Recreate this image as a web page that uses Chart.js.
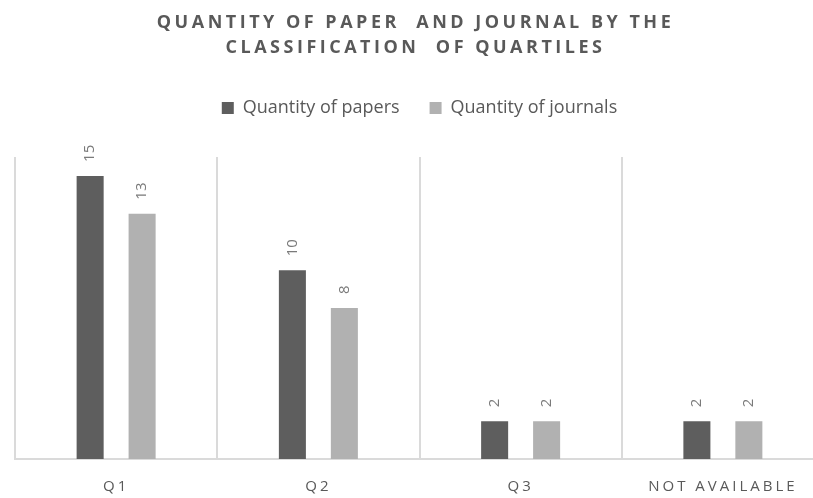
<!DOCTYPE html>
<html>
<head>
<meta charset="utf-8">
<script src="https://cdn.jsdelivr.net/npm/chart.js@4.4.1/dist/chart.umd.min.js"></script>
<style>
  html, body { margin: 0; padding: 0; background: #ffffff; overflow: hidden; }
  #wrap { width: 813px; height: 498px; overflow: hidden; }
  #chart { display: block; }
</style>
</head>
<body>
<div id="wrap"><canvas id="chart" width="824" height="498"></canvas></div>
<script>
// Chart text and values
const titleLines = ['QUANTITY OF PAPER  AND JOURNAL BY THE', 'CLASSIFICATION  OF QUARTILES'];
const categories = ['Q1', 'Q2', 'Q3', 'NOT AVAILABLE'];
const seriesNames = ['Quantity of papers', 'Quantity of journals'];
const papers = [15, 10, 2, 2];
const journals = [13, 8, 2, 2];
const yMax = 16;

const textGrey = '#595959';
const labelGrey = '#7a7a7a';
const gridGrey = '#dadada';
const FONT = '"Open Sans", "DejaVu Sans", sans-serif';

// Letter-spaced title and category labels, plus extra room under the legend
const layoutTweaks = {
  id: 'layoutTweaks',
  beforeLayout(chart) {
    const lg = chart.legend;
    if (lg && !lg._tweaked) {
      const fit = lg.fit;
      lg.fit = function () {
        fit.call(this);
        if (this.options.display) this.height += 30;
      };
      lg._tweaked = true;
    }
  },
  beforeDraw(chart) {
    const ctx = chart.ctx;
    const tb = chart.titleBlock;
    if (tb && !tb._spaced) {
      const draw = tb.draw;
      tb.draw = function (area) {
        ctx.save();
        ctx.letterSpacing = '3.5px';
        ctx.translate(-4, 0);
        draw.call(this, area);
        ctx.restore();
      };
      tb._spaced = true;
    }
    const xs = chart.scales.x;
    if (xs && !xs._spaced) {
      const drawLabels = xs.drawLabels;
      xs.drawLabels = function (area) {
        ctx.save();
        ctx.letterSpacing = '3px';
        drawLabels.call(this, area);
        ctx.restore();
      };
      xs._spaced = true;
    }
  }
};

// Rotated value labels above each bar
const valueLabels = {
  id: 'valueLabels',
  afterDatasetsDraw(chart) {
    const ctx = chart.ctx;
    chart.data.datasets.forEach((ds, i) => {
      const meta = chart.getDatasetMeta(i);
      if (meta.hidden) return;
      meta.data.forEach((bar, j) => {
        ctx.save();
        ctx.font = '15px ' + FONT;
        ctx.fillStyle = labelGrey;
        ctx.translate(bar.x, bar.y - 14);
        ctx.rotate(-Math.PI / 2);
        ctx.textAlign = 'left';
        ctx.textBaseline = 'middle';
        ctx.fillText(String(ds.data[j]), 0, 0);
        ctx.restore();
      });
    });
  }
};

new Chart(document.getElementById('chart'), {
  type: 'bar',
  data: {
    labels: categories,
    datasets: [
      { label: seriesNames[0], data: papers, backgroundColor: '#5e5e5e',
        categoryPercentage: 0.514, barPercentage: 0.52 },
      { label: seriesNames[1], data: journals, backgroundColor: '#b1b1b1',
        categoryPercentage: 0.514, barPercentage: 0.52 }
    ]
  },
  options: {
    responsive: false,
    devicePixelRatio: 1,
    animation: false,
    layout: { padding: { left: 15, right: 0, top: 0, bottom: 0 } },
    plugins: {
      title: {
        display: true,
        text: titleLines,
        color: textGrey,
        font: { family: FONT, size: 18, weight: 'bold', lineHeight: 25 / 18 },
        padding: { top: 10, bottom: 9 }
      },
      legend: {
        display: true,
        position: 'top',
        labels: {
          color: textGrey,
          font: { family: FONT, size: 18 },
          boxWidth: 12,
          boxHeight: 12,
          padding: 30
        }
      },
      tooltip: { enabled: false }
    },
    scales: {
      x: {
        grid: { display: true, offset: true, color: gridGrey, lineWidth: 2, drawTicks: false },
        border: { display: true, color: gridGrey, width: 2 },
        ticks: { color: textGrey, font: { family: FONT, size: 15 }, padding: 19 },
        afterFit(scale) { scale.height = 39; }
      },
      y: {
        display: false,
        min: 0,
        max: yMax
      }
    }
  },
  plugins: [layoutTweaks, valueLabels]
});
</script>
</body>
</html>
